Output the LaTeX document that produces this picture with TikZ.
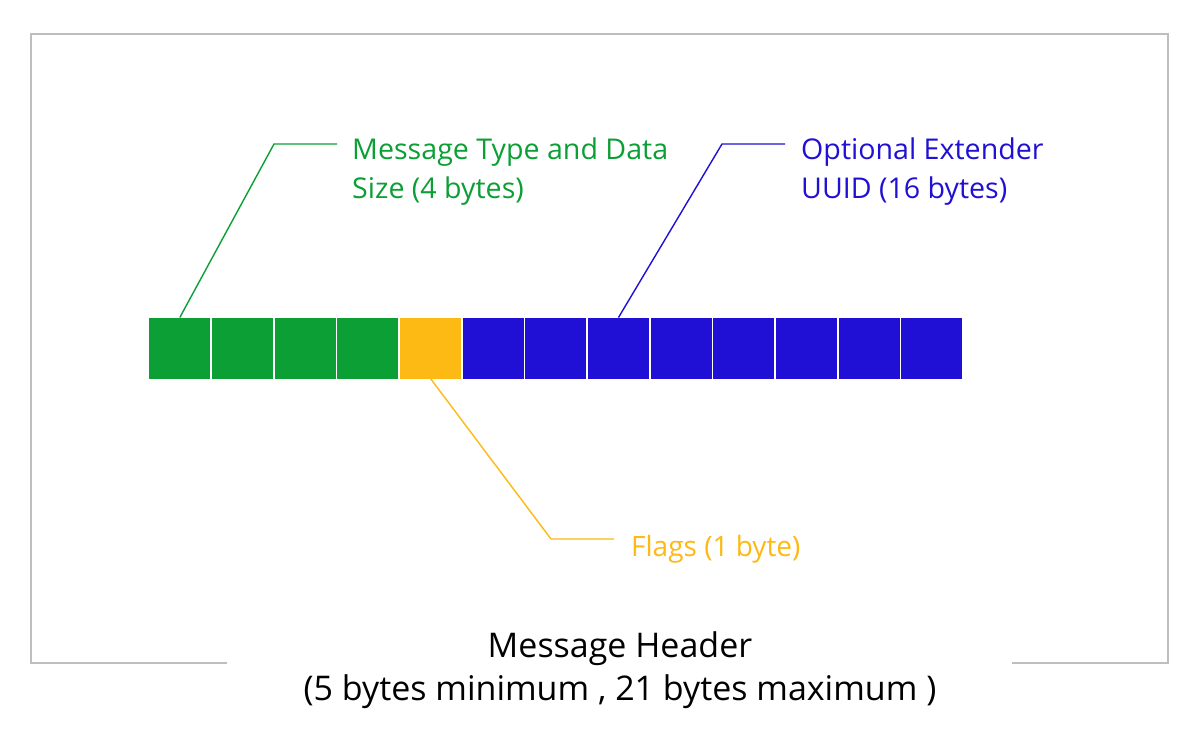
\documentclass[tikz,border=0pt]{standalone}
\usepackage{fontspec}
\setmainfont{Open Sans}
\definecolor{cgreen}{RGB}{11,159,53}
\definecolor{cyellow}{RGB}{253,185,20}
\definecolor{cblue}{RGB}{32,15,212}
\definecolor{cframe}{RGB}{190,190,190}
\begin{document}
\begin{tikzpicture}[x=1pt,y=-1pt,
  cell/.style={minimum width=61pt,minimum height=61pt,inner sep=0pt,outer sep=0pt,draw=none},
  leader/.style={line width=1.4pt},
  lbl/.style={inner sep=0pt,anchor=base west,align=left,font=\fontsize{28.6}{39}\selectfont},
  ttl/.style={inner sep=0pt,anchor=base,align=center,font=\fontsize{34}{43}\selectfont}]
\useasboundingbox (0,0) rectangle (1200,738);
\draw[cframe,line width=1.5pt] (227,663) -- (31,663) -- (31,34) -- (1168,34) -- (1168,663) -- (1012,663);
\foreach \i in {0,...,12}{
  \pgfmathsetmacro{\cx}{149.3+62.67*\i+30.5}
  \ifnum\i<4 \def\cc{cgreen}\else\ifnum\i=4 \def\cc{cyellow}\else\def\cc{cblue}\fi\fi
  \node[cell,fill=\cc] (c\i) at (\cx,348) {};
}
\coordinate (gb) at (274,144);
\coordinate (ge) at (337,144);
\coordinate (bb) at (722,144);
\coordinate (be) at (785,144);
\coordinate (yb) at (551,539);
\coordinate (ye) at (614,539);
\draw[leader,cgreen] (c0.north) -- (gb) -- (ge);
\draw[leader,cblue] (c7.north) -- (bb) -- (be);
\draw[leader,cyellow] (c4.south) -- (yb) -- (ye);
\node[lbl,text=cgreen] (lg) at (352,199) {Message Type and Data\\Size (4 bytes)};
\node[lbl,text=cblue] (lb) at (801,199) {Optional Extender\\UUID (16 bytes)};
\node[lbl,text=cyellow,font=\fontsize{28}{39}\selectfont] (ly) at (631,556) {Flags (1 byte)};
\node[ttl] (t1) at (620,657) {Message Header};
\node[ttl] (t2) at (620,700) {(5 bytes minimum , 21 bytes maximum )};
\end{tikzpicture}
\end{document}
